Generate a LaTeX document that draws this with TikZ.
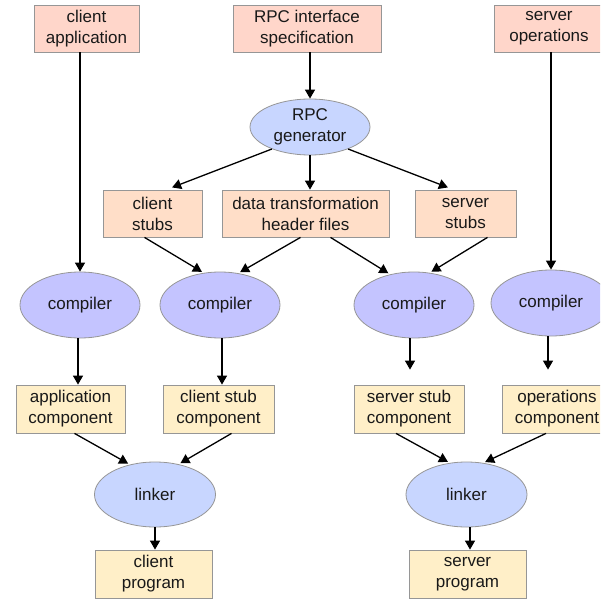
\documentclass[tikz,border=0pt]{standalone}
\usepackage{fontspec}
\setmainfont{Liberation Sans}
\usetikzlibrary{arrows.meta,shapes.geometric}
\definecolor{topfill}{RGB}{255,214,202}
\definecolor{stubfill}{RGB}{255,222,200}
\definecolor{compfill}{RGB}{255,239,200}
\definecolor{bluefill}{RGB}{200,214,255}
\definecolor{lavfill}{RGB}{196,196,255}
\definecolor{bordercol}{RGB}{150,150,150}
\definecolor{txt}{RGB}{25,25,25}
\begin{document}
\begin{tikzpicture}[x=1pt,y=-1pt,
  lbl/.style={text=txt,align=center,font=\fontsize{17}{21}\selectfont,inner sep=0pt},
  box/.style={lbl,draw=bordercol,line width=0.8pt,rectangle,minimum height=47pt},
  topbox/.style={box,fill=topfill},
  stubbox/.style={box,fill=stubfill},
  compbox/.style={box,fill=compfill,minimum height=48pt},
  oval/.style={lbl,draw=bordercol,line width=0.8pt,ellipse},
  blueoval/.style={oval,fill=bluefill},
  lavoval/.style={oval,fill=lavfill,minimum width=120pt,minimum height=66pt},
  arr/.style={draw=black,line width=1.3pt,-{Triangle[length=9pt,width=10pt]}},
]
\useasboundingbox (0,0) rectangle (600,601);
\clip (0,0) rectangle (600,601);

% top row
\node[topbox,minimum width=105pt] (ca) at (86.5,28.5) {client\\application};
\node[topbox,minimum width=148pt] (spec) at (307,28.5) {RPC interface\\specification};
\node[topbox,minimum width=110pt] (so) at (549,28.5) {server\\operations};

% generator
\node[blueoval,minimum width=120pt,minimum height=56pt] (gen) at (310,127) {RPC\\generator};

% stubs row
\node[stubbox,minimum width=99pt] (cs) at (152.5,213.5) {client\\stubs};
\node[stubbox,minimum width=167pt] (dt) at (305.5,213.5) {data transformation\\header files};
\node[stubbox,minimum width=101pt] (ss) at (465.5,213.5) {server\\stubs};

% compilers
\node[lavoval] (c1) at (80,305) {compiler};
\node[lavoval] (c2) at (220,305) {compiler};
\node[lavoval] (c3) at (414,305) {compiler};
\node[lavoval] (c4) at (551,303) {compiler};

% components
\node[compbox,minimum width=109pt] (ac) at (70.5,409) {application\\component};
\node[compbox,minimum width=111pt] (csc) at (218.5,409) {client stub\\component};
\node[compbox,minimum width=110pt] (ssc) at (409,409) {server stub\\component};
\node[compbox,minimum width=110pt] (oc) at (557,409) {operations\\component};

% linkers
\node[blueoval,minimum width=121pt,minimum height=65pt] (l1) at (155,494.5) {linker};
\node[blueoval,minimum width=121pt,minimum height=65pt] (l2) at (466.5,494.5) {linker};

% programs
\node[compbox,minimum width=117pt] (cp) at (153.5,574) {client\\program};
\node[compbox,minimum width=117pt] (sp) at (467.5,574) {server\\program};

% connectors
\draw[arr] (ca.south -| c1) -- (c1.north);
\draw[arr] (so.south -| c4) -- (c4.north);
\draw[arr] (spec.south -| gen) -- (gen.north);
\draw[arr,shorten >=6pt] (gen.210) -- ([xshift=14pt]cs.north);
\draw[arr] (gen.south) -- (dt.north -| gen);
\draw[arr,shorten >=6pt] (gen.330) -- ([xshift=-12pt]ss.north);

\draw[arr,shorten >=2pt] ([xshift=-8pt]cs.south) -- (c2.117);
\draw[arr,shorten >=2pt] ([xshift=-5pt]dt.south) -- (c2.60);
\draw[arr,shorten >=2pt] ([xshift=25pt]dt.south) -- (c3.128);
\draw[arr,shorten >=2pt] ([xshift=22pt]ss.south) -- (c3.64);

\draw[arr] (c1.south -| 78,0) -- (ac.north -| 78,0);
\draw[arr] (c2.south -| 222,0) -- (csc.north -| 222,0);
\draw[arr,shorten >=15pt] (c3.south -| 410,0) -- (ssc.north -| 410,0);
\draw[arr,shorten >=15pt] (c4.south -| 548,0) -- (oc.north -| 548,0);

\draw[arr,shorten >=2pt] ([xshift=4pt]ac.south) -- (l1.130);
\draw[arr,shorten >=2pt] ([xshift=13pt]csc.south) -- (l1.52);
\draw[arr,shorten >=2pt] ([xshift=-13pt]ssc.south) -- (l2.118);
\draw[arr,shorten >=2pt] ([xshift=-11pt]oc.south) -- (l2.62);

\draw[arr] (l1.south) -- (cp.north -| l1);
\draw[arr] (l2.south -| 470,0) -- (sp.north -| 470,0);
\end{tikzpicture}
\end{document}
